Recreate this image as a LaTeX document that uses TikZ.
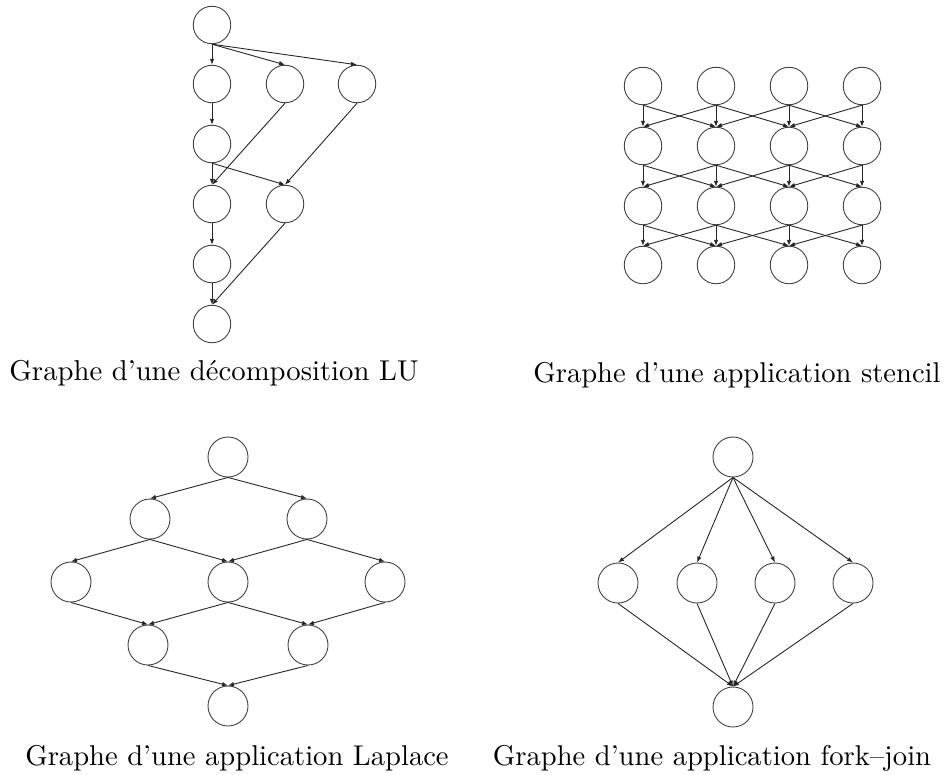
\documentclass[tikz,border=0pt]{standalone}
\usepackage{graphicx}
\usetikzlibrary{arrows.meta}
\begin{document}
\begin{tikzpicture}[x=1pt,y=-1pt,
  nd/.style={circle,draw=black!75,line width=0.9pt,minimum size=37.5pt,inner sep=0pt},
  ndb/.style={nd,minimum size=40pt},
  edge/.style={draw=black!85,line width=0.9pt,-{Latex[length=6pt,width=4.5pt]}},
  captxt/.style={anchor=base,inner sep=0pt}]
\useasboundingbox (0,0) rectangle (944,774);
% ---------- LU ----------
\node[nd] (l1) at (212,25) {};
\node[nd] (l2a) at (212,84) {};
\node[nd] (l2b) at (285,84) {};
\node[nd] (l2c) at (357,84) {};
\node[nd] (l3) at (212,144) {};
\node[nd] (l4a) at (212,204) {};
\node[nd] (l4b) at (285,204) {};
\node[nd] (l5) at (212,264) {};
\node[nd] (l6) at (212,324) {};
\draw[edge] (l1.south) -- (l2a.north);
\draw[edge] (l1.south) -- (l2b.north);
\draw[edge] (l1.south) -- (l2c.north);
\draw[edge] (l2a.south) -- (l3.north);
\draw[edge] (l2b.south) -- (l4a.north);
\draw[edge] (l3.south) -- (l4a.north);
\draw[edge] (l3.south) -- (l4b.north);
\draw[edge] (l2c.south) -- (l4b.north);
\draw[edge] (l4a.south) -- (l5.north);
\draw[edge] (l5.south) -- (l6.north);
\draw[edge] (l4b.south) -- (l6.north);
\node[captxt] (capLU) at (214,380) {\scalebox{2.87}{Graphe d'une décomposition LU}};
% ---------- stencil ----------
\foreach \r/\y in {1/86,2/146,3/206,4/265}{
  \foreach \c/\x in {1/643,2/716,3/789,4/862}{
    \node[nd] (s\r\c) at (\x,\y) {};
  }
}
\foreach \r/\n in {1/2,2/3,3/4}{
  \foreach \c in {1,2,3,4}{
    \draw[edge] (s\r\c.south) -- (s\n\c.north);
  }
  \foreach \c/\d in {1/2,2/3,3/4}{
    \draw[edge] (s\r\c.south) -- (s\n\d.north);
    \draw[edge] (s\r\d.south) -- (s\n\c.north);
  }
}
\node[captxt] (capST) at (737,382) {\scalebox{2.86}{Graphe d'une application stencil}};
% ---------- Laplace ----------
\node[ndb] (p1) at (228,457) {};
\node[ndb] (p2a) at (150,519) {};
\node[ndb] (p2b) at (307,519) {};
\node[ndb] (p3a) at (71,582) {};
\node[ndb] (p3b) at (228,582) {};
\node[ndb] (p3c) at (385,582) {};
\node[ndb] (p4a) at (148,645) {};
\node[ndb] (p4b) at (308,645) {};
\node[ndb] (p5) at (228,706) {};
\draw[edge] (p1.south) -- (p2a.north);
\draw[edge] (p1.south) -- (p2b.north);
\draw[edge] (p2a.south) -- (p3a.north);
\draw[edge] (p2a.south) -- (p3b.north);
\draw[edge] (p2b.south) -- (p3b.north);
\draw[edge] (p2b.south) -- (p3c.north);
\draw[edge] (p3a.south) -- (p4a.north);
\draw[edge] (p3b.south) -- (p4a.north);
\draw[edge] (p3b.south) -- (p4b.north);
\draw[edge] (p3c.south) -- (p4b.north);
\draw[edge] (p4a.south) -- (p5.north);
\draw[edge] (p4b.south) -- (p5.north);
\node[captxt] (capLA) at (237,765) {\scalebox{2.86}{Graphe d'une application Laplace}};
% ---------- fork-join ----------
\node[ndb] (f1) at (733,457) {};
\node[ndb] (f2a) at (618,583) {};
\node[ndb] (f2b) at (697,583) {};
\node[ndb] (f2c) at (775,583) {};
\node[ndb] (f2d) at (853,583) {};
\node[ndb] (f3) at (733,707) {};
\foreach \m in {f2a,f2b,f2c,f2d}{
  \draw[edge] (f1.south) -- (\m.north);
  \draw[edge] (\m.south) -- (f3.north);
}
\node[captxt] (capFJ) at (712,765) {\scalebox{2.86}{Graphe d'une application fork--join}};
\end{tikzpicture}
\end{document}
